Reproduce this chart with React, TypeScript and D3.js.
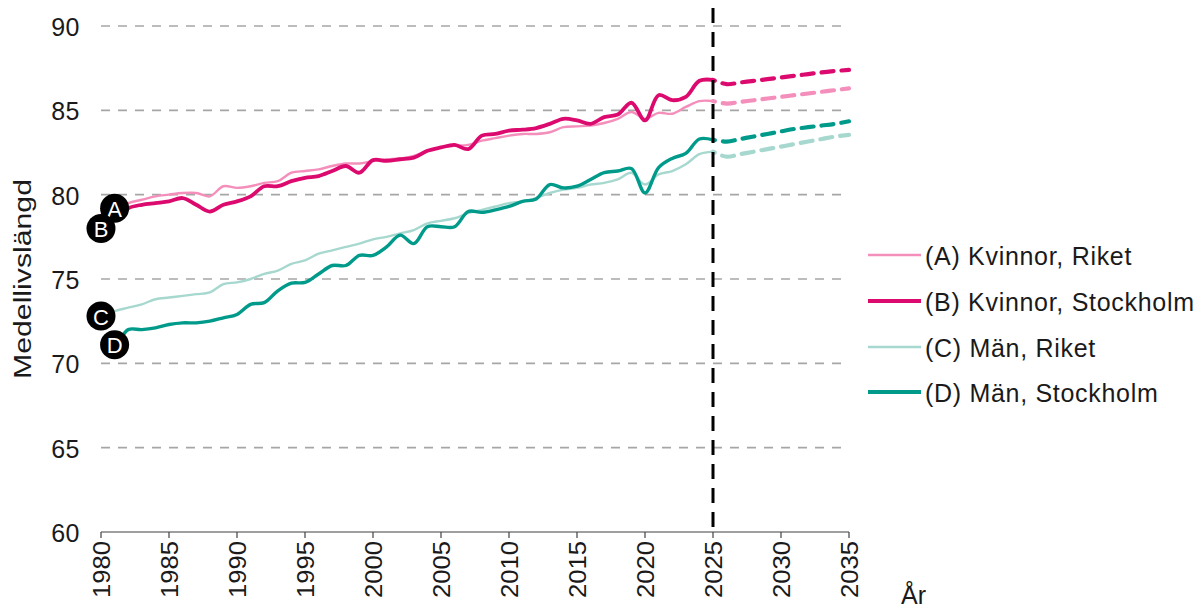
import React from "react";
import * as d3 from "d3";

const years: number[] = d3.range(1980, 2026);
const projYears: number[] = d3.range(2025, 2036);

const kvinnorRiket: number[] = [78.8, 79.2, 79.5, 79.7, 79.9, 80.0, 80.1, 80.1, 79.9, 80.5, 80.4, 80.5, 80.7, 80.8, 81.3, 81.4, 81.5, 81.7, 81.85, 81.85, 82.0, 82.1, 82.15, 82.3, 82.6, 82.8, 82.9, 82.95, 83.2, 83.35, 83.5, 83.6, 83.6, 83.7, 84.0, 84.05, 84.1, 84.25, 84.5, 84.9, 84.5, 84.85, 84.8, 85.2, 85.55, 85.55];
const kvinnorSthlm: number[] = [78.0, 78.6, 79.2, 79.4, 79.5, 79.6, 79.8, 79.4, 79.0, 79.4, 79.6, 79.9, 80.5, 80.5, 80.8, 81.0, 81.1, 81.4, 81.7, 81.3, 82.05, 82.0, 82.1, 82.2, 82.6, 82.8, 82.95, 82.7, 83.5, 83.6, 83.8, 83.85, 83.95, 84.2, 84.5, 84.4, 84.2, 84.6, 84.75, 85.45, 84.4, 85.9, 85.6, 85.8, 86.75, 86.8];
const manRiket: number[] = [72.8, 73.1, 73.3, 73.5, 73.8, 73.9, 74.0, 74.1, 74.2, 74.7, 74.8, 75.0, 75.3, 75.5, 75.9, 76.1, 76.5, 76.7, 76.9, 77.1, 77.35, 77.5, 77.7, 77.9, 78.3, 78.45, 78.6, 78.9, 79.1, 79.3, 79.5, 79.6, 79.8, 80.1, 80.3, 80.4, 80.6, 80.7, 80.9, 81.3, 80.6, 81.2, 81.4, 81.8, 82.4, 82.55];
const manSthlm: number[] = [71.3, 71.1, 72.0, 72.0, 72.1, 72.3, 72.4, 72.4, 72.5, 72.7, 72.9, 73.5, 73.6, 74.3, 74.75, 74.8, 75.3, 75.8, 75.8, 76.4, 76.4, 76.9, 77.6, 77.1, 78.1, 78.1, 78.1, 79.0, 78.95, 79.1, 79.3, 79.6, 79.75, 80.6, 80.4, 80.5, 80.9, 81.3, 81.4, 81.55, 80.1, 81.6, 82.15, 82.45, 83.3, 83.25];

const projKvinnorRiket: number[] = [85.55, 85.4, 85.5, 85.6, 85.7, 85.8, 85.9, 86.0, 86.1, 86.2, 86.3];
const projKvinnorSthlm: number[] = [86.8, 86.55, 86.65, 86.75, 86.85, 86.95, 87.05, 87.15, 87.25, 87.33, 87.4];
const projManRiket: number[] = [82.55, 82.25, 82.4, 82.55, 82.7, 82.85, 83.0, 83.15, 83.3, 83.45, 83.55];
const projManSthlm: number[] = [83.25, 83.15, 83.3, 83.45, 83.6, 83.75, 83.9, 84.0, 84.1, 84.2, 84.35];

const seriesNames: string[] = ["(A) Kvinnor, Riket", "(B) Kvinnor, Stockholm", "(C) Män, Riket", "(D) Män, Stockholm"];
const seriesLetters: string[] = ["A", "B", "C", "D"];
const labelYears: number[] = [1981, 1980, 1980, 1981];
const xTicks: number[] = d3.range(1980, 2036, 5);
const yTicks: number[] = [60, 65, 70, 75, 80, 85, 90];

const colors = ["#f48fbc", "#dc0a6e", "#a7d8cf", "#009a8b"];
const widths = [2.4, 3.8, 2.4, 3.4];

export default function App() {
  const x = d3.scaleLinear().domain([1980, 2035]).range([101, 849]);
  const y = d3.scaleLinear().domain([60, 90]).range([532, 26]);
  const hist = [kvinnorRiket, kvinnorSthlm, manRiket, manSthlm];
  const proj = [projKvinnorRiket, projKvinnorSthlm, projManRiket, projManSthlm];
  const line = d3
    .line<[number, number]>()
    .x((d) => x(d[0]))
    .y((d) => y(d[1]))
    .curve(d3.curveCatmullRom.alpha(0.5));
  const font = "Arial, 'Liberation Sans', sans-serif";
  const legendY = [255, 301, 347, 392];
  const txt = "#1a1a1a";

  return (
    <svg width={1201} height={608} style={{ position: "absolute", left: 0, top: 0, background: "#fff" }} fontFamily={font}>
      {yTicks.filter((t) => t > 60).map((t) => (
        <line key={"g" + t} x1={x(1980)} x2={x(2035)} y1={y(t)} y2={y(t)} stroke="#a6a6a6" strokeWidth={1.6} strokeDasharray="9,8" />
      ))}
      {yTicks.map((t) => (
        <text key={"yt" + t} x={80} y={y(t) + 1} textAnchor="end" dominantBaseline="central" fontSize={25} letterSpacing={0.5} fill={txt}>
          {t}
        </text>
      ))}
      <text transform={`translate(23,${y(75) + 0})  rotate(-90)`} textAnchor="middle" dominantBaseline="central" fontSize={23} textLength={200} lengthAdjust="spacingAndGlyphs" fill={txt}>
        Medellivslängd
      </text>
      <line x1={x(1980)} x2={x(2035)} y1={532} y2={532} stroke="#404040" strokeWidth={1.2} />
      {xTicks.map((t) => (
        <g key={"xt" + t}>
          <line x1={x(t)} x2={x(t)} y1={532} y2={538} stroke="#404040" strokeWidth={1.2} />
          <text transform={`translate(${x(t) + 1},541) rotate(-90)`} textAnchor="end" dominantBaseline="central" fontSize={23} textLength={57} lengthAdjust="spacingAndGlyphs" fill={txt}>
            {t}
          </text>
        </g>
      ))}
      <text x={901} y={604} fontSize={25} fill={txt}>År</text>
      {[2, 3, 0, 1].map((i) => (
        <g key={"s" + i}>
          <path d={line(years.map((yr, k) => [yr, hist[i][k]]))!} fill="none" stroke={colors[i]} strokeWidth={widths[i]} strokeLinejoin="round" />
          <path d={line(projYears.map((yr, k) => [yr, proj[i][k]]))!} fill="none" stroke={colors[i]} strokeWidth={4.2} strokeDasharray="12,8" strokeDashoffset={-10} strokeLinecap="round" />
        </g>
      ))}
      <line x1={x(2025)} x2={x(2025)} y1={8} y2={532} stroke="#000" strokeWidth={3} strokeDasharray="15,9" />
      {[0, 1, 2, 3].map((i) => {
        const yr = labelYears[i];
        const v = hist[i][yr - 1980];
        const cx = x(yr);
        const cy = y(v);
        return (
          <g key={"lab" + i}>
            <circle cx={cx} cy={cy} r={14.5} fill="#000" />
            <text x={cx} y={cy + 1} textAnchor="middle" dominantBaseline="central" fontSize={22} fill="#fff">
              {seriesLetters[i]}
            </text>
          </g>
        );
      })}
      {seriesNames.map((n, i) => (
        <g key={"lg" + i}>
          <line x1={868} x2={921} y1={legendY[i]} y2={legendY[i]} stroke={colors[i]} strokeWidth={i % 2 === 0 ? 2.4 : 4} />
          <text x={925} y={legendY[i] + 1} dominantBaseline="central" fontSize={25} letterSpacing={0.7} fill={txt}>
            {n}
          </text>
        </g>
      ))}
    </svg>
  );
}
